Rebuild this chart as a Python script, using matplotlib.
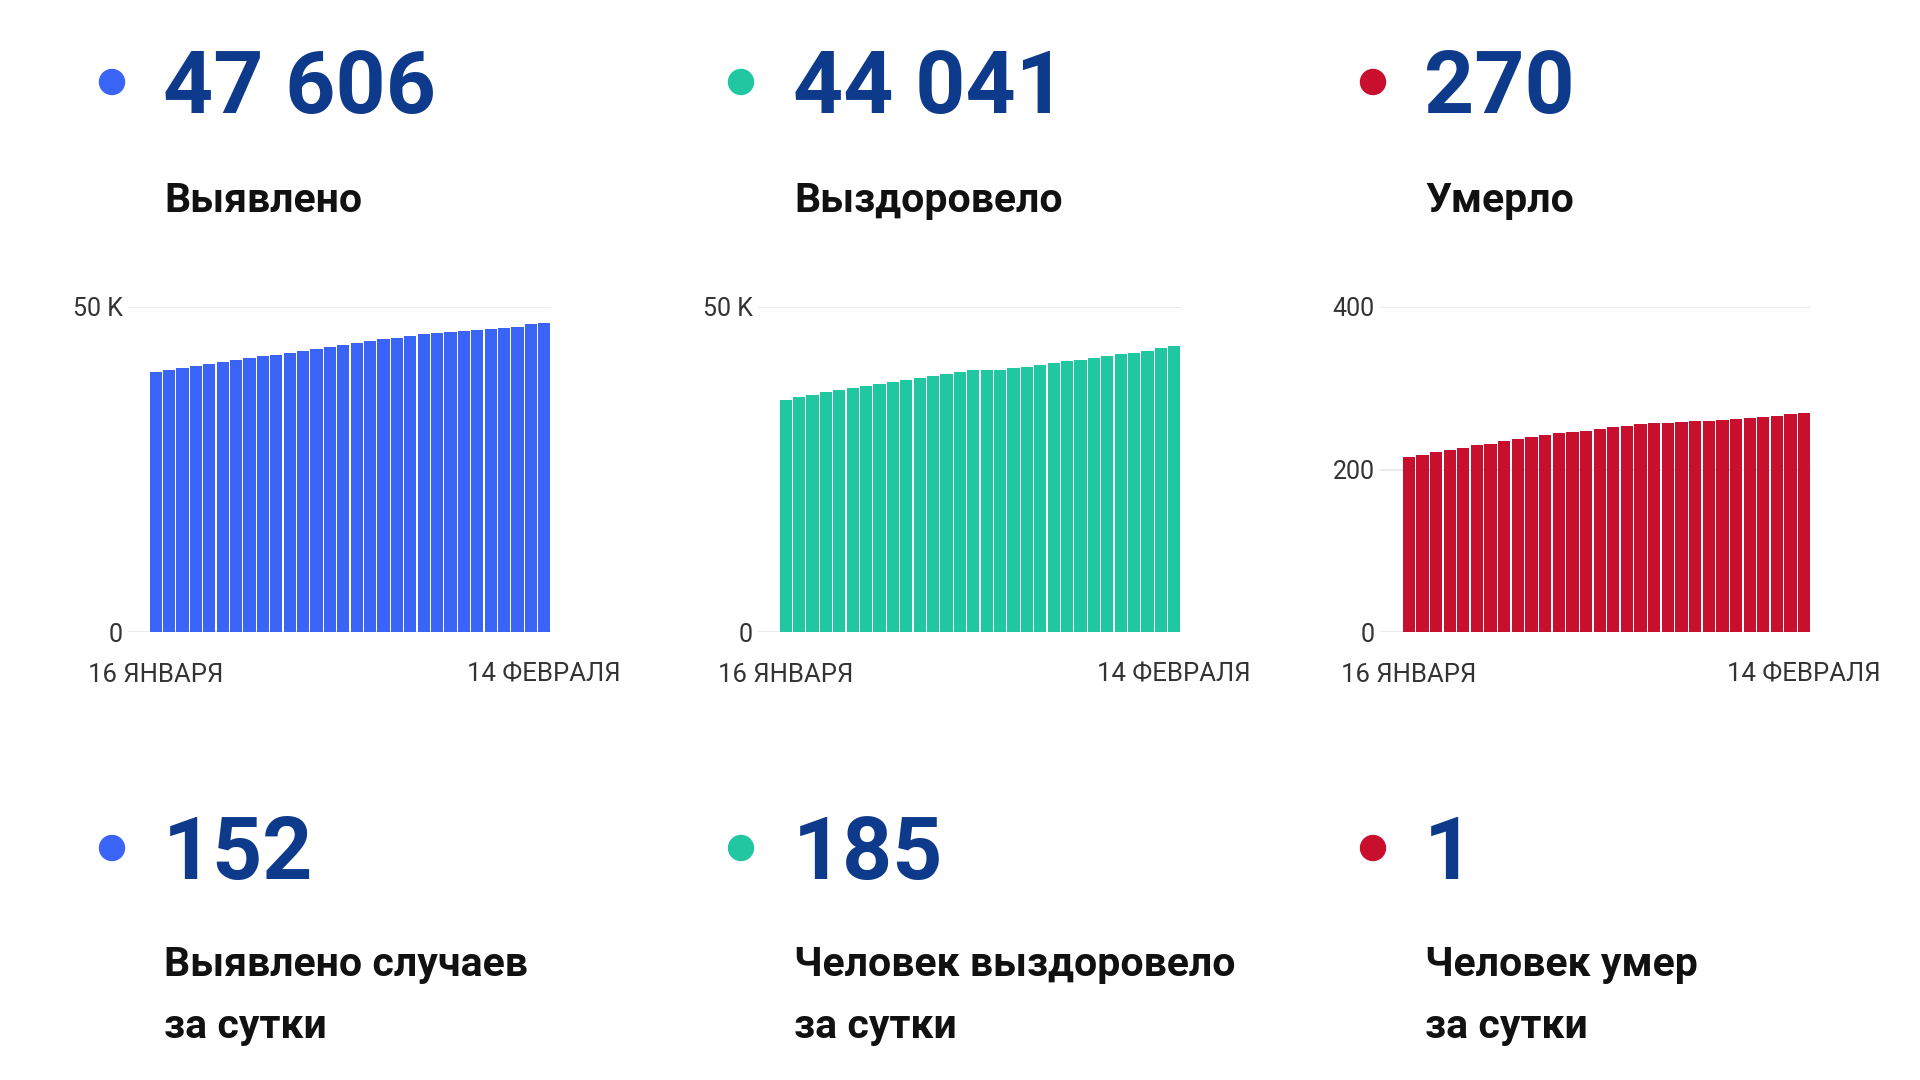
import matplotlib
matplotlib.use('Agg')
import matplotlib.pyplot as plt
from matplotlib.patches import Circle

plt.rcParams['font.family'] = ['Roboto', 'DejaVu Sans']

# cumulative totals, 16 Jan - 14 Feb (30 days)
days = list(range(30))
date_labels = ['16 ЯНВАРЯ', '14 ФЕВРАЛЯ']

detected = [39970, 40280, 40590, 40900, 41200, 41510, 41820, 42130, 42390, 42650,
            43000, 43260, 43570, 43830, 44140, 44440, 44750, 45010, 45220, 45470,
            45780, 45990, 46190, 46350, 46500, 46660, 46810, 46970, 47350, 47606]
recovered = [35750, 36110, 36520, 36880, 37190, 37500, 37860, 38170, 38480, 38730,
             39090, 39400, 39710, 40020, 40330, 40380, 40380, 40590, 40840, 41100,
             41410, 41670, 41920, 42180, 42440, 42700, 42950, 43260, 43700, 44041]
died = [216, 218, 221, 224, 227, 230, 232, 235, 237, 240,
        242, 245, 246, 248, 250, 252, 254, 256, 257, 257,
        258, 260, 260, 261, 262, 264, 265, 266, 268, 270]

totals = ['47 606', '44 041', '270']
total_labels = ['Выявлено', 'Выздоровело', 'Умерло']
daily = ['152', '185', '1']
daily_labels = ['Выявлено случаев\nза сутки', 'Человек выздоровело\nза сутки', 'Человек умер\nза сутки']

colors = ['#3a64f6', '#20c7a0', '#c8102e']
num_color = '#0e3a8c'

fig = plt.figure(figsize=(19.2, 10.8), dpi=100)
W, H = 1920, 1080

col_dot_x = [112, 741, 1373]
col_text_x = [163, 793, 1424]

def fx(px):
    return px / W

def fy(py):
    return 1 - py / H

# headline numbers and labels
for i in range(3):
    for (ny, ly, num, lab) in [(89, 201, totals[i], total_labels[i]),
                               (855, 996, daily[i], daily_labels[i])]:
        fig.patches.append(Circle((col_dot_x[i], H - (ny - 7)), 12.5, color=colors[i],
                                  transform=None, figure=fig))
        fig.text(fx(col_text_x[i]), fy(ny), num, fontsize=63, fontweight='bold',
                 color=num_color, ha='left', va='center')
        fig.text(fx(col_text_x[i] + 1), fy(ly), lab, fontsize=29.5,
                 fontweight='bold', color='#111111', ha='left', va='center',
                 linespacing=1.8)

# bar charts
series = [detected, recovered, died]
grid_x = [128, 758, 1380]
bar_x = [(149, 551), (779, 1181), (1402, 1811)]
ylims = [50000, 50000, 400]
yticks = [[0, 50000], [0, 50000], [0, 200, 400]]
ytlabels = [['0', '50 K'], ['0', '50 K'], ['0', '200', '400']]

for i in range(3):
    x0 = grid_x[i]
    b0, b1 = bar_x[i]
    ax = fig.add_axes([fx(x0), fy(632), fx(b1 - x0), (632 - 307) / H])
    slot = (b1 - b0) / 30
    ax.bar(days, series[i], width=0.9, color=colors[i], zorder=3)
    ax.set_xlim(-0.5 - (b0 - x0) / slot, 29.5)
    ax.set_ylim(0, ylims[i])
    ax.set_yticks(yticks[i])
    ax.set_yticklabels(ytlabels[i])
    ax.set_xticks([0, 29])
    ax.set_xticklabels(date_labels)
    ax.tick_params(axis='y', length=0, pad=4, labelsize=18, labelcolor='#333333')
    ax.tick_params(axis='x', length=0, pad=22, labelsize=18.5, labelcolor='#333333')
    ax.grid(axis='y', color='#e8e8e8', linewidth=1.2, zorder=0)
    for s in ax.spines.values():
        s.set_visible(False)
    ax.patch.set_alpha(0)

fig.savefig('out.png', dpi=100, facecolor='white')
